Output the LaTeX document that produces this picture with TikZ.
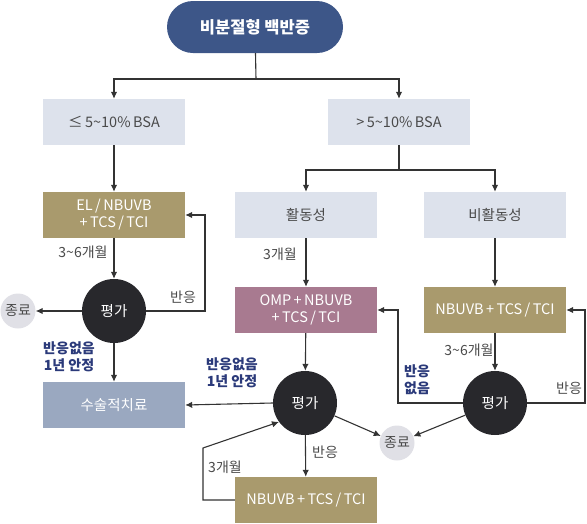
\documentclass[tikz,border=0pt]{standalone}
\usepackage{fontspec}
\setmainfont{Noto Sans CJK KR}
\usetikzlibrary{arrows.meta,positioning}
\definecolor{titleblue}{HTML}{3D5688}
\definecolor{lightbox}{HTML}{DDE2EC}
\definecolor{tan}{HTML}{A99A6D}
\definecolor{mauve}{HTML}{A87A90}
\definecolor{surg}{HTML}{9AA8C0}
\definecolor{evaldark}{HTML}{28282C}
\definecolor{endgray}{HTML}{E0E0E6}
\definecolor{linegray}{HTML}{333333}
\definecolor{txtgray}{HTML}{4A4A4A}
\definecolor{navy}{HTML}{2B3A7A}
\tikzset{
  boxbase/.style={rectangle, minimum width=142pt, minimum height=46pt, inner sep=2pt, align=center, font=\fontsize{14.5}{17}\selectfont},
  lightb/.style={boxbase, fill=lightbox, text=txtgray},
  tanb/.style={boxbase, fill=tan, text=white},
  mauveb/.style={boxbase, fill=mauve, text=white},
  surgb/.style={boxbase, fill=surg, text=white},
  evalc/.style={circle, fill=evaldark, text=white, minimum size=64pt, inner sep=0pt, font=\fontsize{14.5}{17}\selectfont},
  endc/.style={circle, fill=endgray, text=txtgray, minimum size=35pt, inner sep=0pt, font=\fontsize{14}{17}\selectfont},
  conn/.style={draw=linegray, line width=1.1pt},
  arr/.style={conn, -{Latex[length=7pt,width=6.5pt]}},
  lbl/.style={text=txtgray, font=\fontsize{14}{17}\selectfont, align=center, inner sep=0pt},
  nlbl/.style={text=navy, font=\bfseries\fontsize{14}{17}\selectfont, align=center, inner sep=0pt}
}
\begin{document}
\begin{tikzpicture}[x=1pt,y=-1pt]
\useasboundingbox (0,0) rectangle (587,523);
% nodes
\node[fill=titleblue, text=white, rounded corners=26pt, minimum width=176pt, minimum height=52pt, font=\bfseries\fontsize{16.5}{19}\selectfont] (title) at (255,27) {비분절형 백반증};
\node[lightb] (b1) at (114,122) {≤\,5\textasciitilde10\%\,BSA};
\node[lightb] (b2) at (399,122) {>\,5\textasciitilde10\%\,BSA};
\node[tanb] (el) at (114,215) {EL\,/\,NBUVB\\+\,TCS\,/\,TCI};
\node[lightb] (act) at (306,215) {활동성};
\node[lightb] (inact) at (495,215) {비활동성};
\node[mauveb] (omp) at (306,310) {OMP\,+\,NBUVB\\+\,TCS\,/\,TCI};
\node[tanb] (nb1) at (495,310) {NBUVB\,+\,TCS\,/\,TCI};
\node[evalc] (ev1) at (114,311) {평가};
\node[endc] (end1) at (18,311) {종료};
\node[surgb] (surgery) at (114,405) {수술적치료};
\node[evalc] (ev2) at (305,403) {평가};
\node[evalc] (ev3) at (495,403) {평가};
\node[endc] (end2) at (397,443) {종료};
\node[tanb] (nb2) at (306,500) {NBUVB\,+\,TCS\,/\,TCI};
% coordinates
\coordinate (j1) at (256,79);
\coordinate (j2) at (399,170);
\coordinate (r1) at (205,311);
\coordinate (r2) at (585,403);
\coordinate (r3) at (398,403);
\coordinate (l1) at (203,500);
\coordinate (l2) at (203,448);
% connectors
\draw[conn] (title) -- (j1);
\draw[arr] (j1) -| (b1);
\draw[arr] (j1) -| (b2);
\draw[arr] (b1) -- (el);
\draw[conn] (b2) -- (j2);
\draw[arr] (j2) -| (act);
\draw[arr] (j2) -| (inact);
\draw[arr] (el) -- (ev1);
\draw[arr] (ev1) -- (end1);
\draw[arr] (ev1.east) -- (r1) |- (el.east);
\draw[arr] (ev1) -- (surgery);
\draw[arr] (act) -- (omp);
\draw[arr] (inact) -- (nb1);
\draw[arr] (omp) -- (ev2);
\draw[arr] (nb1) -- (ev3);
\draw[arr] (ev2.west) -- (surgery.east);
\draw[arr] (ev2) -- (end2);
\draw[arr] (ev2) -- (nb2);
\draw[arr] (nb2.west) -- (l1) -- (l2) -- (ev2.216);
\draw[arr] (ev3) -- (end2);
\draw[arr] (ev3.east) -- (r2) |- (nb1.east);
\draw[arr] (ev3.west) -- (r3) |- (omp.east);
% labels
\node[lbl] (t1) at (83,252) {3\textasciitilde6개월};
\node[lbl] (t2) at (183,297) {반응};
\node[nlbl] (t3) at (69,357) {반응없음\\1년 안정};
\node[lbl] (t4) at (280,254) {3개월};
\node[lbl] (t5) at (469,350) {3\textasciitilde6개월};
\node[nlbl] (t6) at (232,373) {반응없음\\1년 안정};
\node[lbl] (t7) at (325,452) {반응};
\node[lbl] (t8) at (225,467) {3개월};
\node[nlbl] (t9) at (417,380) {반응\\없음};
\node[lbl] (t10) at (569,388) {반응};
\end{tikzpicture}
\end{document}
